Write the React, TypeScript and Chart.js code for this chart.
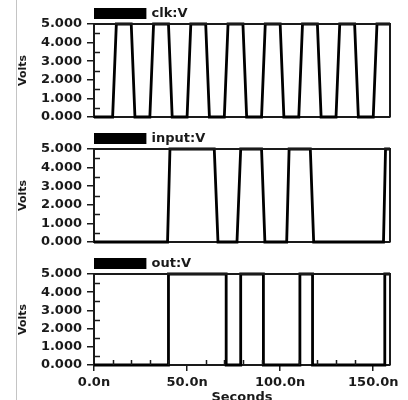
import React, { useEffect, useRef } from "react";
import { Chart, registerables } from "chart.js";

Chart.register(...registerables);

// clk:V
const clkTimes = [0, 10, 12, 20, 22, 30, 32, 40, 42, 50, 52, 60, 62, 70, 72, 80, 82, 90, 92, 100, 102, 110, 112, 120, 122, 130, 132, 140, 142, 150, 152, 159];
const clkVolts = [0, 0, 5, 5, 0, 0, 5, 5, 0, 0, 5, 5, 0, 0, 5, 5, 0, 0, 5, 5, 0, 0, 5, 5, 0, 0, 5, 5, 0, 0, 5, 5];

// input:V
const inTimes = [0, 39.5, 40.8, 64.6, 66.6, 76.8, 78.8, 90, 91.8, 103.5, 104.8, 116.2, 118, 155.5, 156.6, 159];
const inVolts = [0, 0, 5, 5, 0, 0, 5, 5, 0, 0, 5, 5, 0, 0, 5, 5];

// out:V
const outTimes = [0, 40, 40, 71, 71, 78.8, 78.8, 91, 91, 110.6, 110.6, 117.4, 117.4, 156.2, 156.2, 159];
const outVolts = [0, 0, 5, 5, 0, 0, 5, 5, 0, 0, 5, 5, 0, 0, 5, 5];

const xMajorTicks = [0, 50, 100, 150];
const xMinorTicks = [10, 20, 30, 40, 60, 70, 80, 90, 110, 120, 130, 140];
const yMajorTicks = [0, 1, 2, 3, 4, 5];
const yMinorTicks = [0.5, 1.5, 2.5, 3.5, 4.5];

const INK = "#1a1a1a";
const FONT = "DejaVu Sans";

type PanelProps = {
  label: string;
  times: number[];
  volts: number[];
  height: number;
  showX: boolean;
};

function Panel({ label, times, volts, height, showX }: PanelProps) {
  const ref = useRef<HTMLCanvasElement | null>(null);

  useEffect(() => {
    if (!ref.current) return;
    const points = times.map((t, i) => ({ x: t, y: volts[i] }));

    const framePlugin = {
      id: "frame",
      beforeDraw(chart: any) {
        const ctx = chart.ctx;
        ctx.save();
        ctx.strokeStyle = "#c4c4c4";
        ctx.lineWidth = 1;
        ctx.beginPath();
        ctx.moveTo(16.5, 0);
        ctx.lineTo(16.5, chart.height);
        ctx.stroke();
        ctx.restore();
      },
      afterDraw(chart: any) {
        const ctx = chart.ctx;
        const a = chart.chartArea;
        const ys = chart.scales.y;
        const xs = chart.scales.x;
        ctx.save();
        ctx.strokeStyle = INK;
        ctx.lineWidth = 2;
        ctx.beginPath();
        ctx.moveTo(a.left, a.top);
        ctx.lineTo(a.right, a.top);
        ctx.lineTo(a.right, a.bottom);
        ctx.stroke();
        ctx.lineWidth = 1.5;
        ctx.beginPath();
        yMinorTicks.forEach((v) => {
          const y = Math.round(ys.getPixelForValue(v)) + 0.5;
          ctx.moveTo(a.left, y);
          ctx.lineTo(a.left + 6, y);
        });
        if (showX) {
          xMinorTicks.forEach((v) => {
            const x = Math.round(xs.getPixelForValue(v)) + 0.5;
            ctx.moveTo(x, a.bottom);
            ctx.lineTo(x, a.bottom - 5);
          });
        }
        ctx.stroke();
        ctx.restore();
      },
    };

    const chart = new Chart(ref.current, {
      type: "line",
      data: {
        datasets: [
          {
            label,
            data: points,
            borderColor: "#000",
            backgroundColor: "#000",
            borderWidth: 2.8,
            pointRadius: 0,
            tension: 0,
            clip: false as any,
          },
        ],
      },
      options: {
        animation: false,
        responsive: false,
        maintainAspectRatio: false,
        layout: { padding: { left: 14, right: 18, top: 6, bottom: 0 } },
        plugins: {
          legend: {
            display: true,
            position: "top",
            align: "start",
            fullSize: false,
            maxHeight: 18,
            labels: {
              boxWidth: 50,
              boxHeight: 8,
              padding: 1,
              color: INK,
              font: { family: FONT, size: 13, weight: "bold" },
            },
          },
          tooltip: { enabled: false },
        },
        scales: {
          x: {
            type: "linear",
            min: 0,
            max: 159,
            afterFit: (s: any) => {
              s.height = showX ? 45 : 8;
            },
            afterBuildTicks: (s: any) => {
              s.ticks = xMajorTicks.map((v) => ({ value: v }));
            },
            ticks: {
              display: showX,
              autoSkip: false,
              maxRotation: 0,
              padding: 4,
              color: INK,
              font: { family: FONT, size: 13, weight: "bold" },
              callback: (v: any) => Number(v).toFixed(1) + "n",
            },
            grid: {
              drawOnChartArea: false,
              drawTicks: showX,
              tickLength: 6,
              color: INK,
              lineWidth: 1.5,
            },
            border: { display: true, color: INK, width: 2 },
            title: {
              display: showX,
              text: "Seconds",
              color: INK,
              padding: { top: 0, bottom: 5 },
              font: { family: FONT, size: 13, weight: "bold" },
            },
          },
          y: {
            type: "linear",
            min: 0,
            max: 5,
            afterFit: (s: any) => {
              s.width = 80;
              s.paddingTop = 0;
              s.paddingBottom = 0;
            },
            afterBuildTicks: (s: any) => {
              s.ticks = yMajorTicks.map((v) => ({ value: v }));
            },
            ticks: {
              autoSkip: false,
              padding: 5,
              color: INK,
              font: { family: FONT, size: 13, weight: "bold" },
              callback: (v: any) => Number(v).toFixed(3),
            },
            grid: {
              drawOnChartArea: false,
              drawTicks: true,
              tickLength: 7,
              color: INK,
              lineWidth: 1.5,
            },
            border: { display: true, color: INK, width: 2 },
            title: {
              display: true,
              text: "Volts",
              color: INK,
              padding: { top: 3, bottom: 0 },
              font: { family: FONT, size: 11, weight: "bold" },
            },
          },
        },
      },
      plugins: [framePlugin],
    } as any);

    return () => chart.destroy();
  }, []);

  return (
    <canvas
      ref={ref}
      width={408}
      height={height}
      style={{ display: "block", width: 408, height }}
    />
  );
}

export default function App() {
  return (
    <div
      style={{
        position: "fixed",
        left: 0,
        top: 0,
        width: 408,
        height: 400,
        overflow: "hidden",
        background: "#fff",
      }}
    >
      <Panel label="clk:V" times={clkTimes} volts={clkVolts} height={125} showX={false} />
      <Panel label="input:V" times={inTimes} volts={inVolts} height={125} showX={false} />
      <Panel label="out:V" times={outTimes} volts={outVolts} height={160} showX={true} />
    </div>
  );
}
